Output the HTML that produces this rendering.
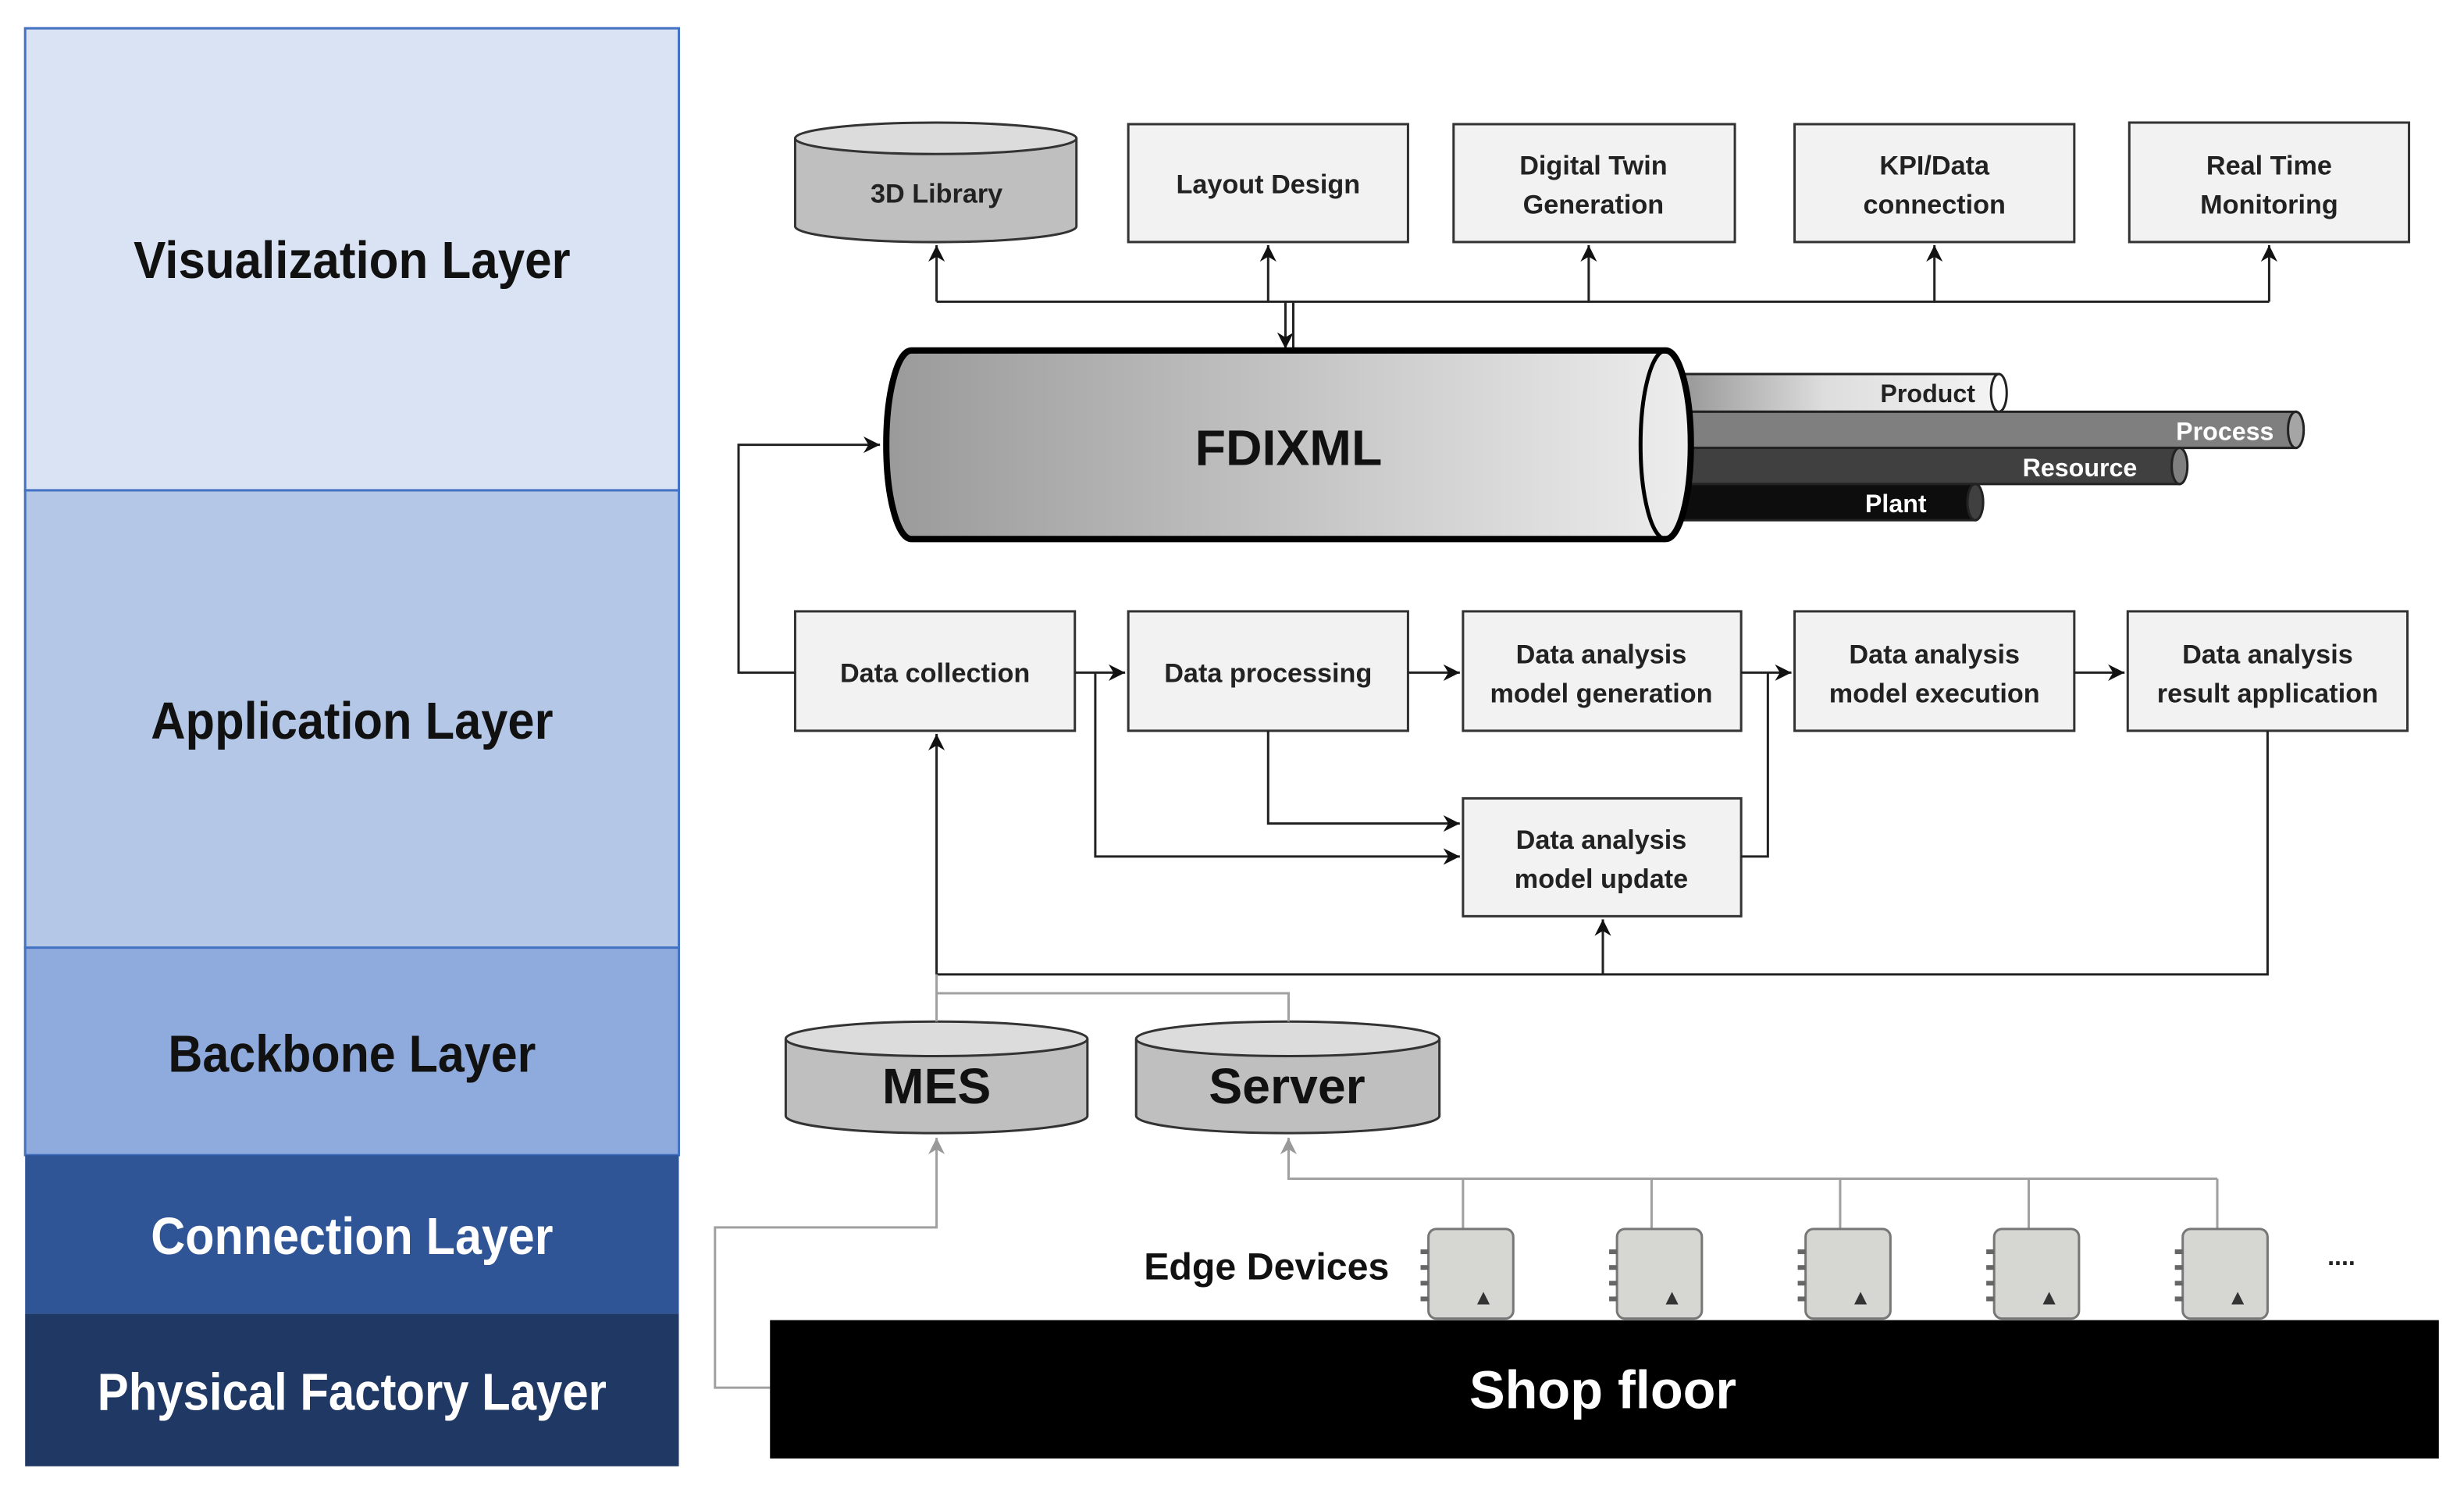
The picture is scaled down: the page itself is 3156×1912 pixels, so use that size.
<!DOCTYPE html>
<html><head><meta charset="utf-8"><style>
html,body{margin:0;padding:0;background:#fff;}
svg{display:block;}
text{font-family:"Liberation Sans Narrow","Liberation Sans",sans-serif;font-weight:bold;}
</style></head><body>
<svg width="3156" height="1912" viewBox="0 0 1568 950" preserveAspectRatio="none" xmlns="http://www.w3.org/2000/svg">
<defs>
<marker id="a" viewBox="0 0 10 10" refX="10" refY="5" markerWidth="7" markerHeight="7" orient="auto"><path d="M0,0 L10,5 L0,10 L3,5 z" fill="#111"/></marker>
<marker id="g" viewBox="0 0 10 10" refX="10" refY="5" markerWidth="7" markerHeight="7" orient="auto"><path d="M0,0 L10,5 L0,10 L3,5 z" fill="#999"/></marker>
<linearGradient id="fx" x1="0" x2="1" y1="0" y2="0"><stop offset="0" stop-color="#9a9a9a"/><stop offset="1" stop-color="#ededed"/></linearGradient>
<linearGradient id="pr" x1="0" x2="1"><stop offset="0" stop-color="#888"/><stop offset="0.5" stop-color="#ddd"/><stop offset="1" stop-color="#f4f4f4"/></linearGradient>
</defs>
<!-- layers -->
<rect x="16" y="18" width="416" height="294" fill="#dae3f3" stroke="#4472c4" stroke-width="1.5"/>
<rect x="16" y="312" width="416" height="291" fill="#b4c7e7" stroke="#4472c4" stroke-width="1.5"/>
<rect x="16" y="603" width="416" height="132" fill="#8faadc" stroke="#4472c4" stroke-width="1.5"/>
<rect x="16" y="735" width="416" height="101" fill="#2f5597"/>
<rect x="16" y="836" width="416" height="97" fill="#203864"/>
<text x="224" y="177" font-size="33" text-anchor="middle" fill="#111" textLength="278" lengthAdjust="spacingAndGlyphs">Visualization Layer</text>
<text x="224" y="470" font-size="33" text-anchor="middle" fill="#111" textLength="256" lengthAdjust="spacingAndGlyphs">Application Layer</text>
<text x="224" y="682" font-size="33" text-anchor="middle" fill="#111" textLength="234" lengthAdjust="spacingAndGlyphs">Backbone Layer</text>
<text x="224" y="798" font-size="33" text-anchor="middle" fill="#fff" textLength="256" lengthAdjust="spacingAndGlyphs">Connection Layer</text>
<text x="224" y="897" font-size="33" text-anchor="middle" fill="#fff" textLength="324" lengthAdjust="spacingAndGlyphs">Physical Factory Layer</text>

<g stroke="#333" stroke-width="1.5" fill="#f2f2f2">
<rect x="718" y="79" width="178" height="75"/>
<rect x="925" y="79" width="179" height="75"/>
<rect x="1142" y="79" width="178" height="75"/>
<rect x="1355" y="78" width="178" height="76"/>
<rect x="506" y="389" width="178" height="76"/>
<rect x="718" y="389" width="178" height="76"/>
<rect x="931" y="389" width="177" height="76"/>
<rect x="1142" y="389" width="178" height="76"/>
<rect x="1354" y="389" width="178" height="76"/>
<rect x="931" y="508" width="177" height="75"/>
</g>
<!-- 3D library cylinder -->
<g stroke="#333" stroke-width="1.5">
<path d="M506,88 L506,144 A89,10 0 0 0 685,144 L685,88" fill="#bfbfbf"/>
<ellipse cx="595.5" cy="88" rx="89.5" ry="10" fill="#dcdcdc"/>
<path d="M500,661 L500,710 A96,11 0 0 0 692,710 L692,661" fill="#bfbfbf"/>
<ellipse cx="596" cy="661" rx="96" ry="11" fill="#dcdcdc"/>
<path d="M723,661 L723,710 A96.5,11 0 0 0 916,710 L916,661" fill="#bfbfbf"/>
<ellipse cx="819.5" cy="661" rx="96.5" ry="11" fill="#dcdcdc"/>
</g>
<g font-size="17" text-anchor="middle" fill="#222">
<text x="596" y="129">3D Library</text>
<text x="807" y="123">Layout Design</text>
<text x="1014" y="111">Digital Twin</text><text x="1014" y="136">Generation</text>
<text x="1231" y="111">KPI/Data</text><text x="1231" y="136">connection</text>
<text x="1444" y="111">Real Time</text><text x="1444" y="136">Monitoring</text>
<text x="595" y="434">Data collection</text>
<text x="807" y="434">Data processing</text>
<text x="1019" y="422">Data analysis</text><text x="1019" y="447">model generation</text>
<text x="1231" y="422">Data analysis</text><text x="1231" y="447">model execution</text>
<text x="1443" y="422">Data analysis</text><text x="1443" y="447">result application</text>
<text x="1019" y="540">Data analysis</text><text x="1019" y="565">model update</text>
</g>
<text x="596" y="702" font-size="32" text-anchor="middle" fill="#111">MES</text>
<text x="819" y="702" font-size="32" text-anchor="middle" fill="#111">Server</text>

<!-- top bus -->
<g stroke="#222" stroke-width="1.5" fill="none">
<path d="M596,192 H1444"/>
<path d="M596,192 V156" marker-end="url(#a)"/>
<path d="M807,192 V156" marker-end="url(#a)"/>
<path d="M1011,192 V156" marker-end="url(#a)"/>
<path d="M1231,192 V156" marker-end="url(#a)"/>
<path d="M1444,192 V156" marker-end="url(#a)"/>
<path d="M818,192 V222" marker-end="url(#a)"/>
<path d="M823,192 V222"/>
</g>

<!-- tubes -->
<g stroke="#222" stroke-width="1.5">
<rect x="1050" y="238" width="222" height="24" fill="url(#pr)"/><ellipse cx="1272" cy="250" rx="5" ry="12" fill="#fff"/>
<rect x="1046" y="262" width="415" height="23" fill="#7f7f7f"/><ellipse cx="1461" cy="273.5" rx="5" ry="11.5" fill="#a5a5a5"/>
<rect x="1046" y="285" width="341" height="23" fill="#404040"/><ellipse cx="1387" cy="296.5" rx="5" ry="11.5" fill="#7f7f7f"/>
<rect x="1050" y="308" width="207" height="23" fill="#0d0d0d"/><ellipse cx="1257" cy="319.5" rx="5" ry="11.5" fill="#404040"/>
</g>
<g font-size="16" text-anchor="end">
<text x="1257" y="256" fill="#222">Product</text>
<text x="1447" y="280" fill="#fff">Process</text>
<text x="1360" y="303" fill="#fff">Resource</text>
<text x="1226" y="326" fill="#fff">Plant</text>
</g>
<!-- FDIXML cylinder -->
<path d="M580,223 H1060 A16,60 0 0 1 1060,343 H580 A16,60 0 0 1 580,223 z" fill="url(#fx)" stroke="#000" stroke-width="4"/>
<ellipse cx="1060" cy="283" rx="16" ry="60" fill="none" stroke="#000" stroke-width="2.5"/>
<path d="M1060,223 A16,60 0 0 1 1060,343" fill="none" stroke="#000" stroke-width="2.5"/>
<text x="820" y="296" font-size="32" text-anchor="middle" fill="#111">FDIXML</text>

<!-- application arrows -->
<g stroke="#222" stroke-width="1.5" fill="none">
<path d="M506,428 H470 V283 H560" marker-end="url(#a)"/>
<path d="M684,428 H716" marker-end="url(#a)"/>
<path d="M896,428 H929" marker-end="url(#a)"/>
<path d="M1108,428 H1140" marker-end="url(#a)"/>
<path d="M1320,428 H1352" marker-end="url(#a)"/>
<path d="M697,428 V545 H929" marker-end="url(#a)"/>
<path d="M807,465 V524 H929" marker-end="url(#a)"/>
<path d="M1108,545 H1125 V428"/>
<path d="M1443,465 V620 H596"/>
<path d="M596,620 V467" marker-end="url(#a)"/>
<path d="M1020,620 V585" marker-end="url(#a)"/>
</g>
<!-- gray connectors -->
<g stroke="#a0a0a0" stroke-width="1.5" fill="none">
<path d="M596,620 V650"/>
<path d="M596,632 H820 V650"/>
<path d="M490,883 H455 V781 H596 V724" marker-end="url(#g)"/>
<path d="M1411,750 H820 V724" marker-end="url(#g)"/>
<path d="M931,750 V782 M1051,750 V782 M1171,750 V782 M1291,750 V782 M1411,750 V782"/>
</g>
<!-- edge devices -->
<g>
<g id="dev">
<rect x="909" y="782" width="54" height="57" rx="5" fill="#d6d6d2" stroke="#777" stroke-width="1.5"/>
<rect x="904" y="795" width="5" height="3" fill="#666"/><rect x="904" y="805" width="5" height="3" fill="#666"/><rect x="904" y="815" width="5" height="3" fill="#666"/><rect x="904" y="825" width="5" height="3" fill="#666"/>
<path d="M940,830 L944,822 L948,830 z" fill="#333"/>
</g>
<use href="#dev" x="120"/><use href="#dev" x="240"/><use href="#dev" x="360"/><use href="#dev" x="480"/>
</g>
<text x="806" y="814" font-size="24" text-anchor="middle" fill="#111">Edge Devices</text>
<text x="1490" y="805" font-size="16" text-anchor="middle" fill="#222">....</text>
<!-- shop floor -->
<rect x="490" y="840" width="1062" height="88" fill="#000"/>
<text x="1020" y="896" font-size="34" text-anchor="middle" fill="#fff">Shop floor</text>
</svg>
</body></html>
